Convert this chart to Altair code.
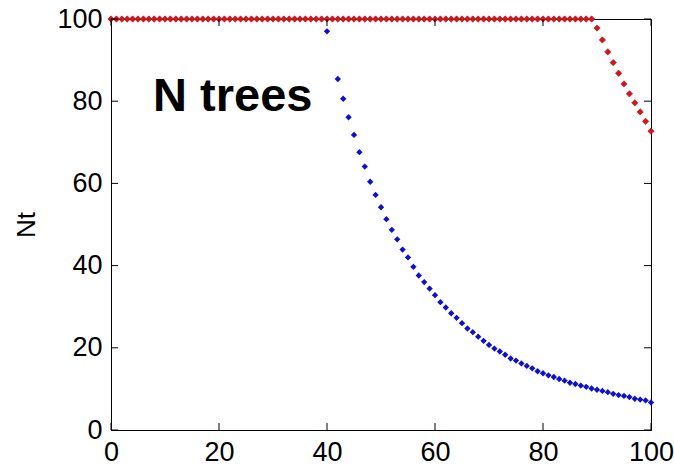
import altair as alt
import pandas as pd

# ---- data ----
red_t = list(range(0, 101))
red_nt = [
    100, 100, 100, 100, 100, 100, 100, 100, 100, 100,
    100, 100, 100, 100, 100, 100, 100, 100, 100, 100,
    100, 100, 100, 100, 100, 100, 100, 100, 100, 100,
    100, 100, 100, 100, 100, 100, 100, 100, 100, 100,
    100, 100, 100, 100, 100, 100, 100, 100, 100, 100,
    100, 100, 100, 100, 100, 100, 100, 100, 100, 100,
    100, 100, 100, 100, 100, 100, 100, 100, 100, 100,
    100, 100, 100, 100, 100, 100, 100, 100, 100, 100,
    100, 100, 100, 100, 100, 100, 100, 100, 100, 100,
    97.8, 94.9, 92.0, 89.4, 86.8, 84.2, 81.8, 79.6, 77.4, 75.1,
    72.7,
]

# t = 41 is hidden behind the "N trees" label box in the reference
blue_t = [40] + list(range(42, 101))
blue_nt = [
    97.0, 85.4, 80.6, 76.1, 71.8, 67.6, 64.1, 60.4, 57.2,
    54.2, 51.3, 48.7, 46.4, 43.9, 42.0, 39.7, 37.6, 36.0, 34.4,
    32.8, 31.1, 29.8, 28.4, 27.3, 26.0, 24.7, 23.8, 22.7, 21.7,
    20.7, 19.8, 19.1, 18.3, 17.4, 16.9, 16.2, 15.6, 15.0, 14.3,
    13.8, 13.3, 12.9, 12.4, 12.0, 11.5, 11.2, 10.8, 10.5, 10.1,
    9.8, 9.5, 9.2, 8.8, 8.5, 8.3, 8.0, 7.6, 7.4, 7.2,
    6.7,
]

x_ticks = [0, 20, 40, 60, 80, 100]
y_ticks = [0, 20, 40, 60, 80, 100]
label_text = "N trees"

W, H = 540, 411
FONT = "Liberation Sans"

red_df = pd.DataFrame({"t": red_t, "Nt": red_nt})
blue_df = pd.DataFrame({"t": blue_t, "Nt": blue_nt})
xt_df = pd.DataFrame({"v": x_ticks})
yt_df = pd.DataFrame({"v": y_ticks})

xs = alt.Scale(domain=[0, 100], nice=False, zero=False)
ys = alt.Scale(domain=[0, 100], nice=False, zero=False)

x_axis = alt.Axis(values=x_ticks, title=None, labelFlush=False, labelOverlap=False,
                  labelPadding=9, format="d")
y_axis = alt.Axis(values=y_ticks, title="Nt", labelFlush=False, labelOverlap=False,
                  labelPadding=9, format="d", titlePadding=17)

blue = alt.Chart(blue_df).mark_point(
    shape="diamond", filled=True, size=40, color="#1010cc", opacity=1
).encode(
    x=alt.X("t:Q", scale=xs, axis=x_axis),
    y=alt.Y("Nt:Q", scale=ys, axis=y_axis),
)

red = alt.Chart(red_df).mark_point(
    shape="diamond", filled=True, size=40, color="#d4141e", opacity=1,
    stroke="#a0101c", strokeWidth=0.6
).encode(
    x=alt.X("t:Q", scale=xs),
    y=alt.Y("Nt:Q", scale=ys),
)

label = alt.Chart(pd.DataFrame({"a": [0]})).mark_text(
    text=label_text, font=FONT, fontWeight="bold", fontSize=47,
    align="left", baseline="alphabetic", color="black"
).encode(x=alt.datum(7.8), y=alt.datum(77.6))

tick_len = 7
bottom_ticks = alt.Chart(xt_df).mark_rule(color="black", strokeWidth=1).encode(
    x=alt.X("v:Q", scale=xs), y=alt.value(H), y2=alt.value(H - tick_len))
top_ticks = alt.Chart(xt_df).mark_rule(color="black", strokeWidth=1).encode(
    x=alt.X("v:Q", scale=xs), y=alt.value(0), y2=alt.value(tick_len))
left_ticks = alt.Chart(yt_df).mark_rule(color="black", strokeWidth=1).encode(
    y=alt.Y("v:Q", scale=ys), x=alt.value(0), x2=alt.value(tick_len))
right_ticks = alt.Chart(yt_df).mark_rule(color="black", strokeWidth=1).encode(
    y=alt.Y("v:Q", scale=ys), x=alt.value(W), x2=alt.value(W - tick_len))

chart = alt.layer(
    blue, red, label, bottom_ticks, top_ticks, left_ticks, right_ticks
).properties(
    width=W, height=H,
    autosize=alt.AutoSizeParams(type="none"),
    padding={"left": 111, "top": 19, "right": 23, "bottom": 46},
    background="white",
).configure_view(
    stroke="black", strokeWidth=1
).configure_axis(
    grid=False, ticks=False, domainColor="black", domainWidth=1,
    labelFont=FONT, labelFontSize=27, labelColor="black",
    titleFont=FONT, titleFontSize=26, titleFontWeight="normal", titleColor="black",
)

chart.save("out.html", embed_options={"renderer": "svg", "actions": False})
